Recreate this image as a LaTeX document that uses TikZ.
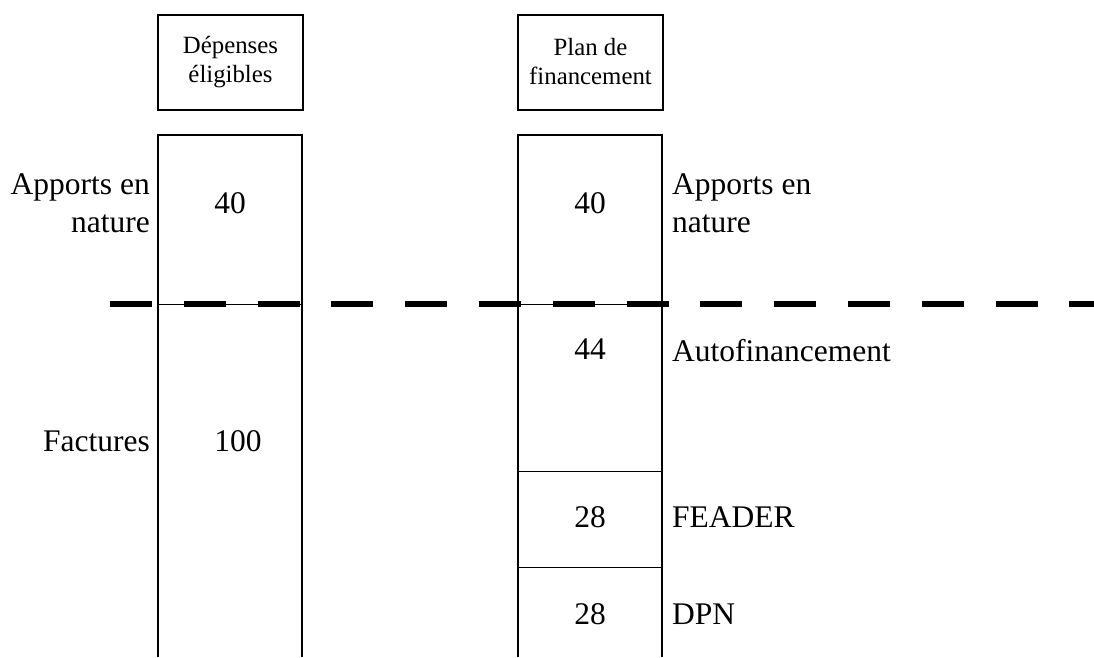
\documentclass[tikz,border=0pt]{standalone}
\usepackage{fontspec}
\setmainfont{Liberation Serif}
\usetikzlibrary{positioning}

\tikzset{
  bigtxt/.style={font=\fontsize{31.5}{38}\selectfont, inner sep=0pt},
  headtxt/.style={font=\fontsize{24.8}{29}\selectfont, align=center, inner sep=0pt},
  boxline/.style={line width=2pt},
  cutline/.style={line width=1pt},
  splitline/.style={line width=6pt, dash pattern=on 42pt off 31.8pt}
}

\begin{document}
\begin{tikzpicture}[x=1pt,y=-1pt]
			%%%%% START %%%%%
			\useasboundingbox (0,0) rectangle (1094,657);
			
			% column headers
			\draw[boxline] (158,15) rectangle (303,110);
			\node[headtxt] (hdep) at (230.5,62) {Dépenses\\éligibles};
			\draw[boxline] (518,15) rectangle (663,110);
			\node[headtxt] (hplan) at (590.5,62) {Plan de\\financement};
			
			% columns, open at the bottom
			\draw[boxline] (158,657) -- (158,135) -- (302,135) -- (302,657);
			\draw[boxline] (518,657) -- (518,135) -- (662,135) -- (662,657);
			
			\draw[cutline] (158,304) -- (302,304);
			\draw[cutline] (518,304) -- (662,304);
			\draw[cutline] (518,471) -- (662,471);
			\draw[cutline] (518,567) -- (662,567);
			
			% dashed separation
			\coordinate (dstart) at (110,304);
			\coordinate (dend) at (1100,304);
			\draw[splitline] (dstart) -- (dend);
			
			% values
			\node[bigtxt] (v40a) at (230,203) {40};
			\node[bigtxt] (v100) at (238,441) {100};
			\node[bigtxt] (v40b) at (590,203) {40};
			\node[bigtxt] (v44) at (590,349) {44};
			\node[bigtxt] (v28a) at (590,517) {28};
			\node[bigtxt] (v28b) at (590,614) {28};
			
			% labels left
			\node[bigtxt, align=right, anchor=east] (lapp) at (150,203) {Apports en\\nature};
			\node[bigtxt, anchor=east] (lfac) at (150,441) {Factures};
			
			% labels right
			\node[bigtxt, align=left, anchor=west] (rapp) at (672,203) {Apports en\\nature};
			\node[bigtxt, anchor=west] (rauto) at (672,351) {Autofinancement};
			\node[bigtxt, anchor=west] (rfea) at (672,517) {FEADER};
			\node[bigtxt, anchor=west] (rdpn) at (672,614) {DPN};
			
			%%%%% END %%%%%
\end{tikzpicture}
\end{document}
